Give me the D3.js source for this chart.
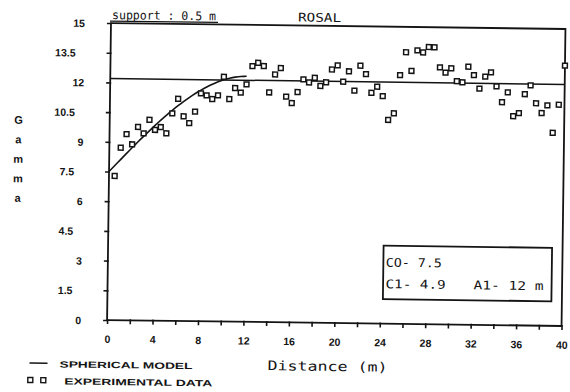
<!DOCTYPE html>
<html><head><meta charset="utf-8">
<script src="https://cdn.jsdelivr.net/npm/d3@7"></script>
<style>
html,body{margin:0;padding:0;background:#fff;}
svg{display:block;}
</style></head><body>
<svg id="chart" width="570" height="392"></svg>
<script>
// Experimental semivariogram, lag step 0.5 m
const lags = [0.5, 1, 1.5, 2, 2.5, 3, 3.5, 4, 4.5, 5,
  5.5, 6, 6.5, 7, 7.5, 8, 8.5, 9, 9.5, 10,
  10.5, 11, 11.5, 12, 12.5, 13, 13.5, 14, 14.5, 15,
  15.5, 16, 16.5, 17, 17.5, 18, 18.5, 19, 19.5, 20,
  20.5, 21, 21.5, 22, 22.5, 23, 23.5, 24, 24.5, 25,
  25.5, 26, 26.5, 27, 27.5, 28, 28.5, 29, 29.5, 30,
  30.5, 31, 31.5, 32, 32.5, 33, 33.5, 34, 34.5, 35,
  35.5, 36, 36.5, 37, 37.5, 38, 38.5, 39, 39.5, 40];
const gammaValues = [7.28, 8.71, 9.40, 8.89, 9.77, 9.45, 10.14, 9.63, 9.78, 9.47,
  10.48, 11.22, 10.34, 10.00, 10.58, 11.51, 11.41, 11.23, 11.42, 12.36,
  11.24, 11.80, 11.57, 11.99, 12.92, 13.09, 12.93, 11.60, 12.51, 12.84,
  11.40, 11.08, 11.64, 12.28, 12.13, 12.37, 11.96, 12.15, 12.80, 13.01,
  12.19, 12.72, 11.75, 13.01, 12.59, 11.65, 11.96, 11.49, 10.29, 10.63,
  12.56, 13.72, 12.78, 13.82, 13.72, 14.00, 13.99, 12.98, 12.72, 12.94,
  12.29, 12.24, 13.03, 12.61, 11.93, 12.54, 12.76, 12.06, 11.26, 11.76,
  10.56, 10.72, 11.68, 12.13, 11.23, 10.74, 11.13, 9.75, 11.17, 13.15];

// Fitted spherical model
const nugget = 7.5;      // C0
const partialSill = 4.9; // C1
const modelRange = 12;   // A1 (m)
const sampleVariance = 12.2;

const yTickValues = [0, 1.5, 3, 4.5, 6, 7.5, 9, 10.5, 12, 13.5, 15];
const xTickValues = [0, 2, 4, 6, 8, 10, 12, 14, 16, 18, 20, 22, 24, 26, 28, 30, 32, 34, 36, 38, 40];
const xLabelValues = [0, 4, 8, 12, 16, 20, 24, 28, 32, 36, 40];
const yAxisLetters = ["G", "a", "m", "m", "a"];

const svg = d3.select("#chart");
svg.append("rect").attr("width", 570).attr("height", 392).attr("fill", "#fff");

const ink = "#141414";
const plotFont = "'Liberation Sans', Arial, sans-serif";
const monoFont = "'DejaVu Sans Mono', 'Liberation Mono', monospace";

// the whole sheet sits slightly tilted
const root = svg.append("g").attr("transform", "rotate(0.75,336,176)");

const x = d3.scaleLinear().domain([0, 40]).range([109, 563.5]);
const y = d3.scaleLinear().domain([0, 15]).range([323, 26]);

// frame
root.append("rect")
  .attr("x", x(0)).attr("y", y(15))
  .attr("width", x(40) - x(0)).attr("height", y(0) - y(15))
  .attr("fill", "none").attr("stroke", ink).attr("stroke-width", 1.8);

// y axis
const yAxis = root.append("g")
  .attr("transform", `translate(${x(0)},0)`)
  .call(d3.axisLeft(y).tickValues(yTickValues).tickSize(4).tickPadding(0)
    .tickFormat(d => Number.isInteger(d) ? d3.format("d")(d) : d3.format(".1f")(d)));
yAxis.select(".domain").remove();
yAxis.selectAll(".tick line").attr("stroke", ink).attr("stroke-width", 1.6).attr("x2", -4).attr("x1", 1);
yAxis.selectAll(".tick text")
  .attr("x", d => Number.isInteger(d) ? -26 : -35)
  .attr("dy", "0.36em")
  .attr("fill", ink)
  .style("font-family", plotFont).style("font-weight", "bold").style("font-size", "10.5px");

// x axis
const xAxis = root.append("g")
  .attr("transform", `translate(0,${y(0)})`)
  .call(d3.axisBottom(x).tickValues(xTickValues).tickSize(4).tickPadding(0)
    .tickFormat(d => xLabelValues.includes(d) ? d3.format("d")(d) : ""));
xAxis.select(".domain").remove();
xAxis.selectAll(".tick line").attr("stroke", ink).attr("stroke-width", 1.6).attr("y1", -1).attr("y2", 4);
xAxis.selectAll(".tick text")
  .attr("y", 19).attr("dy", "0.36em")
  .attr("fill", ink)
  .style("font-family", plotFont).style("font-weight", "bold").style("font-size", "10.5px");

// sample variance line
root.append("line")
  .attr("x1", x(0)).attr("x2", x(40))
  .attr("y1", y(sampleVariance)).attr("y2", y(sampleVariance))
  .attr("stroke", ink).attr("stroke-width", 1.5);

// spherical model curve
const spherical = h => h >= modelRange
  ? nugget + partialSill
  : nugget + partialSill * (1.5 * h / modelRange - 0.5 * Math.pow(h / modelRange, 3));
const modelPts = d3.range(0, modelRange + 0.001, 0.25).map(h => [h, spherical(h)]);
root.append("path")
  .datum(modelPts)
  .attr("d", d3.line().x(d => x(d[0])).y(d => y(d[1])))
  .attr("fill", "none").attr("stroke", ink).attr("stroke-width", 1.6);

// experimental points
root.append("g").selectAll("rect")
  .data(lags.map((h, i) => [h, gammaValues[i]]))
  .join("rect")
  .attr("x", d => x(d[0]) - 2.4).attr("y", d => y(d[1]) - 2.4)
  .attr("width", 4.8).attr("height", 4.8)
  .attr("fill", "#fff").attr("stroke", ink).attr("stroke-width", 1.5);

// title line
const title = root.append("g");
title.append("text")
  .attr("x", 110).attr("y", 22)
  .style("font-family", monoFont).style("font-size", "12px").attr("fill", ink)
  .attr("textLength", 104).attr("lengthAdjust", "spacingAndGlyphs")
  .text("support : 0.5 m");
title.append("line")
  .attr("x1", 108).attr("x2", 216).attr("y1", 24).attr("y2", 24)
  .attr("stroke", ink).attr("stroke-width", 1.2);
title.append("text")
  .attr("x", 296).attr("y", 22)
  .style("font-family", monoFont).style("font-size", "12px").attr("fill", ink)
  .attr("textLength", 43).attr("lengthAdjust", "spacingAndGlyphs")
  .text("ROSAL");

// vertical axis title, one letter per line
root.append("g").selectAll("text")
  .data(yAxisLetters)
  .join("text")
  .attr("x", 18).attr("y", (d, i) => 128 + i * 19.5)
  .attr("text-anchor", "middle")
  .style("font-family", plotFont).style("font-weight", "bold").style("font-size", "11px")
  .attr("fill", ink)
  .text(d => d);

// horizontal axis title
root.append("text")
  .attr("x", 330).attr("y", 371).attr("text-anchor", "middle")
  .style("font-family", monoFont).style("font-size", "13px").attr("fill", ink)
  .attr("textLength", 120).attr("lengthAdjust", "spacingAndGlyphs")
  .text("Distance (m)");

// model parameters box
const box = root.append("g");
box.append("rect")
  .attr("x", 384.5).attr("y", 245).attr("width", 168.5).attr("height", 53.5)
  .attr("fill", "#fff").attr("stroke", ink).attr("stroke-width", 1.8);
const boxText = (tx, ty, s, len) => box.append("text")
  .attr("x", tx).attr("y", ty)
  .style("font-family", monoFont).style("font-size", "12px").attr("fill", ink)
  .attr("textLength", len).attr("lengthAdjust", "spacingAndGlyphs")
  .text(s);
boxText(387, 266, `CO- ${nugget}`, 56);
boxText(387, 287.5, `C1- ${partialSill}`, 60);
boxText(475, 287.5, `A1- ${modelRange} m`, 70);

// legend
const legend = root.append("g");
legend.append("line")
  .attr("x1", 32).attr("x2", 50).attr("y1", 367).attr("y2", 367)
  .attr("stroke", ink).attr("stroke-width", 1.4);
legend.append("text")
  .attr("x", 62).attr("y", 371)
  .style("font-family", plotFont).style("font-weight", "bold").style("font-size", "9px").attr("fill", ink)
  .attr("textLength", 133).attr("lengthAdjust", "spacingAndGlyphs")
  .text("SPHERICAL MODEL");
[33, 46].forEach(cx => legend.append("rect")
  .attr("x", cx - 2.5).attr("y", 381.5).attr("width", 5).attr("height", 5)
  .attr("fill", "#fff").attr("stroke", ink).attr("stroke-width", 1.4));
legend.append("text")
  .attr("x", 67).attr("y", 388)
  .style("font-family", plotFont).style("font-weight", "bold").style("font-size", "9px").attr("fill", ink)
  .attr("textLength", 148).attr("lengthAdjust", "spacingAndGlyphs")
  .text("EXPERIMENTAL DATA");
</script>
</body></html>
